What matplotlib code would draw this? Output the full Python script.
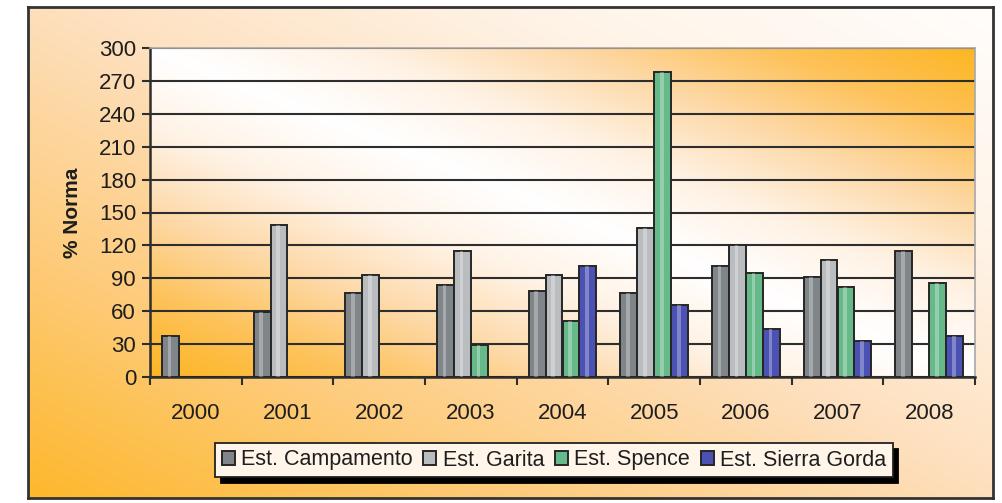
import matplotlib
matplotlib.use("Agg")
import matplotlib.pyplot as plt
import numpy as np
from matplotlib.colors import LinearSegmentedColormap

years = ["2000", "2001", "2002", "2003", "2004", "2005", "2006", "2007", "2008"]
campamento = [37, 59, 77, 84, 78, 77, 101, 91, 115]
garita = [0, 139, 93, 115, 93, 136, 120, 107, 0]
spence = [0, 0, 0, 29, 51, 278, 95, 82, 86]
sierra_gorda = [0, 0, 0, 0, 101, 66, 44, 33, 37]

series = [("Est. Campamento", campamento, "#808589"),
          ("Est. Garita", garita, "#B9BDBF"),
          ("Est. Spence", spence, "#66BA8A"),
          ("Est. Sierra Gorda", sierra_gorda, "#4C52B4")]

W, H = 1002, 503
INK = "#1E1E1E"
plt.rcParams["font.family"] = ["Liberation Sans", "DejaVu Sans"]

fig = plt.figure(figsize=(W / 100, H / 100), dpi=100)
fig.patch.set_facecolor("white")

# chart-area background: orange bottom-left -> white top-right
bg = fig.add_axes([28 / W, 5 / H, 965 / W, 491 / H])
bg_cmap = LinearSegmentedColormap.from_list(
    "bg", ["#FDB82C", "#FDCB7A", "#FEDFBC", "#FFF3E6", "#FFFDFB"])
gx, gy = np.meshgrid(np.linspace(0, 1, 300), np.linspace(0, 1, 300))
bg.imshow((gx + gy) / 2, cmap=bg_cmap, origin="lower", extent=[0, 1, 0, 1],
          aspect="auto", vmin=0, vmax=1)
bg.set_xticks([])
bg.set_yticks([])
for s in bg.spines.values():
    s.set_color("#333333")
    s.set_linewidth(2)

# plot area: white diagonal band, orange corners
ax = fig.add_axes([150 / W, (H - 377) / H, 825 / W, 329 / H])
pa_cmap = LinearSegmentedColormap.from_list(
    "pa", ["#FFFFFF", "#FFF2E4", "#FDD9A8", "#FDC25A", "#FDB622"])
pa = np.abs(gx + gy - 1)
ax.imshow(pa, cmap=pa_cmap, origin="lower", extent=[-0.5, len(years) - 0.5, 0, 300],
          aspect="auto", vmin=0, vmax=1, zorder=0)

x = np.arange(len(years))
bw = 0.185
for i, (name, vals, col) in enumerate(series):
    pos = x + (i - 1.5) * bw
    ax.bar(pos, vals, bw, color=col, edgecolor="#262626", linewidth=1.4,
           label=name, zorder=3)
    # soft highlight to mimic the shaded bars
    ax.bar(pos - bw * 0.05, vals, bw * 0.22, color="white", alpha=0.3,
           linewidth=0, zorder=3.5)

ax.set_xlim(-0.5, len(years) - 0.5)
ax.set_ylim(0, 300)
ax.set_yticks(range(0, 301, 30))
ax.yaxis.grid(True, color="#2E2E2E", linewidth=1.5, zorder=1)
ax.set_axisbelow(True)
ax.set_xticks(x)
ax.set_xticklabels(years)
ax.set_xticks(np.arange(-0.5, len(years)), minor=True)
ax.tick_params(axis="x", which="major", length=0, pad=19, labelsize=16,
               labelcolor=INK)
ax.tick_params(axis="x", which="minor", length=6, width=1.5, color="#2E2E2E")
ax.tick_params(axis="y", length=6, width=1.5, color="#2E2E2E", labelsize=16,
               labelcolor=INK, pad=4)
ax.set_ylabel("% Norma", fontsize=15, fontweight="bold", color=INK, labelpad=12)
for side in ("left", "bottom"):
    ax.spines[side].set_color("#2E2E2E")
    ax.spines[side].set_linewidth(1.8)
for side in ("top", "right"):
    ax.spines[side].set_color("#A8A8A8")
    ax.spines[side].set_linewidth(1.2)

handles, labels = ax.get_legend_handles_labels()
leg = fig.legend(handles, labels, ncol=4, loc="center",
                 bbox_to_anchor=(554 / W, 1 - 460 / H), fontsize=15.5,
                 frameon=True, fancybox=False,
                 shadow={"color": "black", "alpha": 1.0, "ox": 4, "oy": -4},
                 handlelength=0.6, handleheight=0.6, handletextpad=0.3,
                 columnspacing=0.5, borderpad=0.3, labelcolor=INK)
leg.get_frame().set_facecolor("#FFF5E8")
leg.get_frame().set_edgecolor("#222222")
leg.get_frame().set_linewidth(1.3)

fig.savefig("out.png", dpi=100)
